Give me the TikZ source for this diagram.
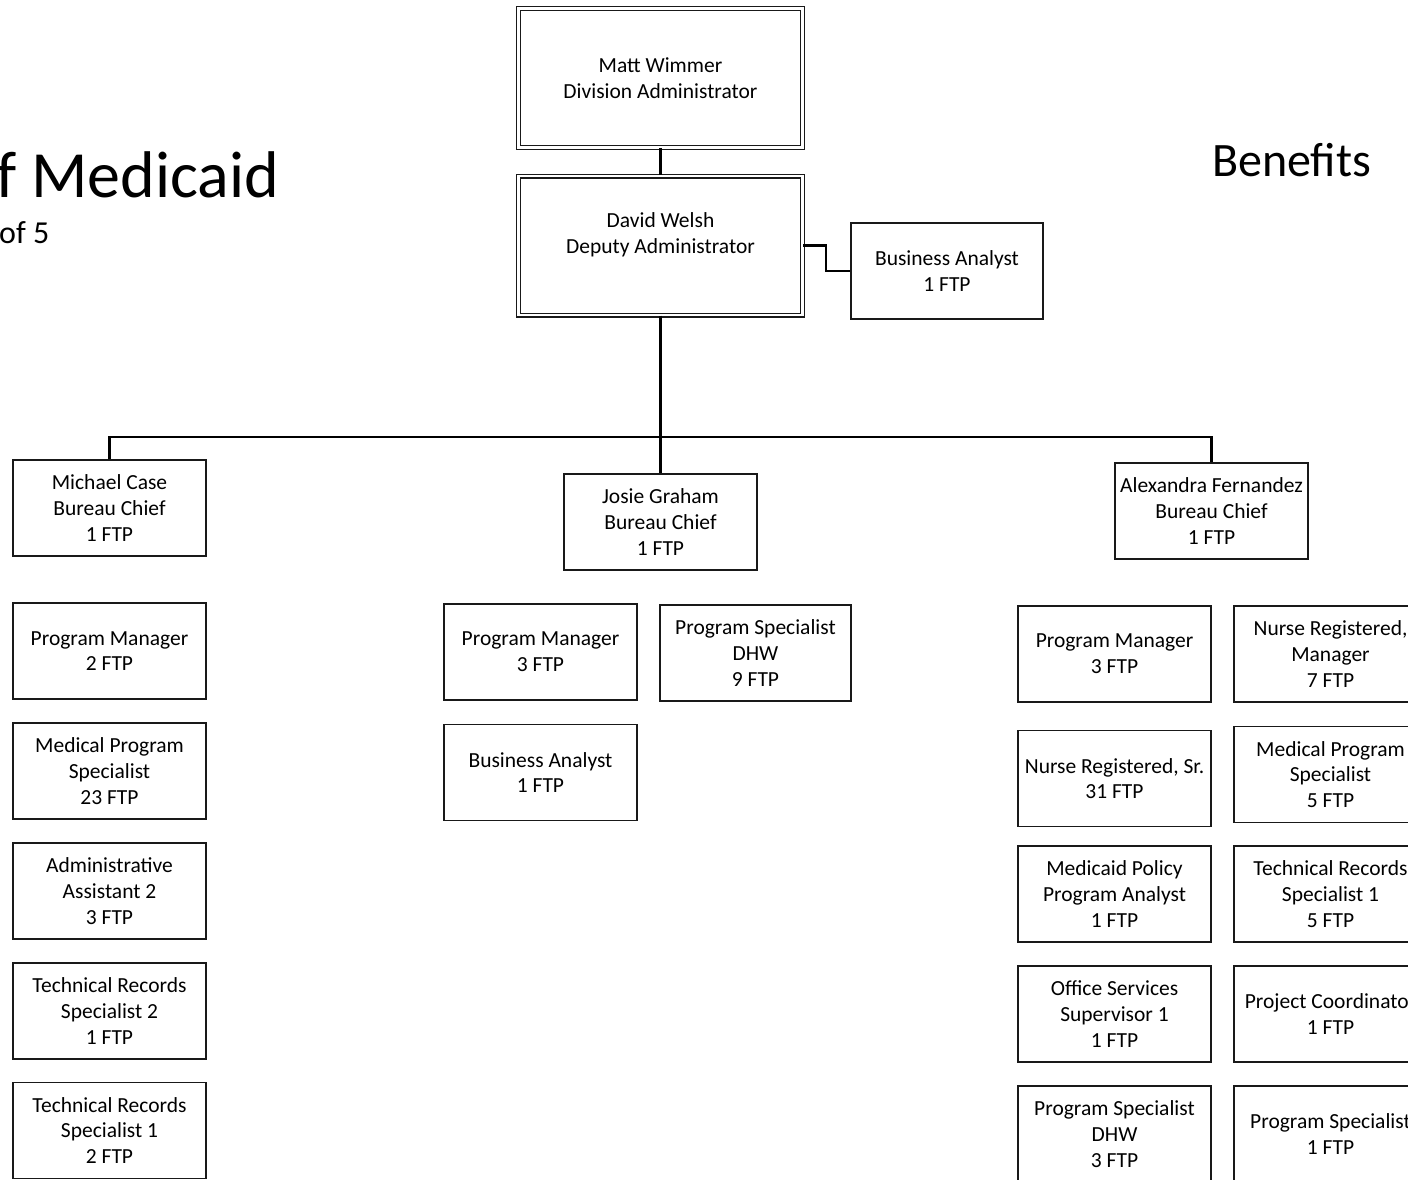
\documentclass[tikz,border=0pt]{standalone}
\usepackage{fontspec}
\setmainfont{Carlito}
\begin{document}
\begin{tikzpicture}[x=1pt,y=-1pt,
  every node/.style={font=\fontsize{21.5}{25.8}\selectfont, text=black},
  box/.style={draw=black!90, line width=1.3pt, align=center, inner sep=1pt,
    minimum width=193pt, minimum height=96pt},
  headbox/.style={draw=black!90, line width=1.2pt, double, double distance=2.6pt,
    align=center, minimum width=284pt, minimum height=139pt},
  plain/.style={align=center, inner sep=0pt},
  link/.style={draw=black, line width=2.6pt}]
\useasboundingbox (0,0) rectangle (1408,1179);

% page headings
\node[anchor=base west, inner sep=0pt, font=\fontsize{66}{72}\selectfont] (title) at (-4,197) {f Medicaid};
\node[anchor=base west, inner sep=0pt, font=\fontsize{32}{36}\selectfont] (page) at (-1,243) {of 5};
\node[anchor=base west, inner sep=0pt, font=\fontsize{48}{54}\selectfont] (benefits) at (1212,176) {Benefits};

% leadership
\node[headbox] (mw) at (660.5,78) {Matt Wimmer\\Division Administrator};
\node[headbox] (dw) at (660.5,245.5) {};
\node[plain] (dwtext) at (660.5,235) {David Welsh\\Deputy Administrator};
\node[box, minimum width=192pt] (ba) at (947,271) {Business Analyst\\1 FTP};

% bureau chiefs
\node[box] (mc) at (109.5,508) {Michael Case\\Bureau Chief\\1 FTP};
\node[box] (jg) at (660.5,522) {Josie Graham\\Bureau Chief\\1 FTP};
\node[box] (af) at (1211.5,511) {Alexandra Fernandez\\Bureau Chief\\1 FTP};

% Michael Case's bureau
\node[box] (l1) at (109.5,651) {Program Manager\\2 FTP};
\node[box] (l2) at (109.5,771) {Medical Program\\Specialist\\23 FTP};
\node[box] (l3) at (109.5,891) {Administrative\\Assistant 2\\3 FTP};
\node[box] (l4) at (109.5,1011) {Technical Records\\Specialist 2\\1 FTP};
\node[box] (l5) at (109.5,1130.5) {Technical Records\\Specialist 1\\2 FTP};

% Josie Graham's bureau
\node[box] (m1) at (540.5,652) {Program Manager\\3 FTP};
\node[box, minimum width=191pt] (m2) at (755.5,653) {Program Specialist\\DHW\\9 FTP};
\node[box] (m3) at (540.5,772.5) {Business Analyst\\1 FTP};

% Alexandra Fernandez's bureau
\node[box] (r1) at (1114.5,654) {Program Manager\\3 FTP};
\node[box] (r2) at (1114.5,778.5) {Nurse Registered, Sr.\\31 FTP};
\node[box] (r3) at (1114.5,894) {Medicaid Policy\\Program Analyst\\1 FTP};
\node[box] (r4) at (1114.5,1014) {Office Services\\Supervisor 1\\1 FTP};
\node[box] (r5) at (1114.5,1134) {Program Specialist\\DHW\\3 FTP};

\node[box] (s1) at (1330.5,654) {Nurse Registered,\\Manager\\7 FTP};
\node[box] (s2) at (1330.5,774.5) {Medical Program\\Specialist\\5 FTP};
\node[box] (s3) at (1330.5,894) {Technical Records\\Specialist 1\\5 FTP};
\node[box] (s4) at (1330.5,1014) {Project Coordinator\\1 FTP};
\node[box] (s5) at (1330.5,1134) {Program Specialist\\1 FTP};

% reporting lines
\coordinate (bus) at (660.5,437);
\coordinate (jog) at (826,0);
\draw[link] (mw) -- (dw);
\draw[link] (dw.east) -- (dw.east -| jog) |- (ba.west);
\draw[link] (dw.south) -- (jg.north);
\draw[link] (mc.north) |- (bus) -| (af.north);
\end{tikzpicture}
\end{document}
